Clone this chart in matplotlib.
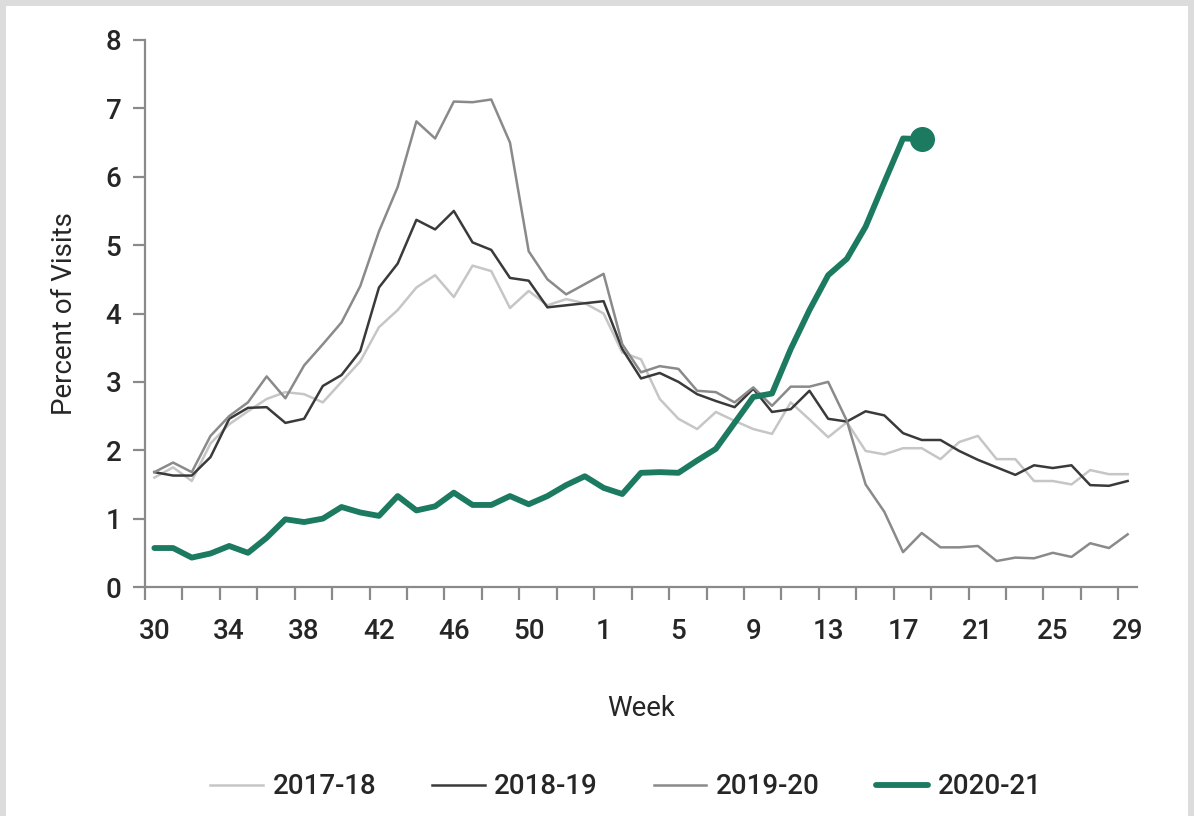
import matplotlib.pyplot as plt
import numpy as np
from matplotlib.patches import Rectangle

weeks = list(range(30, 54)) + list(range(1, 30))

s_2017_18 = [1.60, 1.75, 1.55, 2.10, 2.38, 2.57, 2.75, 2.85, 2.82, 2.70,
             3.00, 3.30, 3.80, 4.05, 4.38, 4.56, 4.24, 4.70, 4.62, 4.08,
             4.33, 4.12, 4.21, 4.15, 4.00, 3.43, 3.33, 2.75, 2.46, 2.31,
             2.56, 2.43, 2.31, 2.24, 2.70, 2.45, 2.19, 2.41, 1.99, 1.94,
             2.03, 2.03, 1.87, 2.12, 2.21, 1.87, 1.87, 1.55, 1.55, 1.50,
             1.71, 1.65, 1.65]
s_2018_19 = [1.68, 1.63, 1.63, 1.90, 2.46, 2.62, 2.63, 2.40, 2.46, 2.94,
             3.10, 3.45, 4.38, 4.73, 5.37, 5.23, 5.50, 5.04, 4.93, 4.52,
             4.48, 4.09, 4.12, 4.15, 4.18, 3.48, 3.05, 3.13, 3.00, 2.82,
             2.72, 2.63, 2.90, 2.56, 2.60, 2.87, 2.46, 2.42, 2.57, 2.51,
             2.25, 2.15, 2.15, 1.99, 1.86, 1.75, 1.64, 1.78, 1.74, 1.78,
             1.49, 1.48, 1.55]
s_2019_20 = [1.68, 1.82, 1.68, 2.21, 2.50, 2.70, 3.08, 2.76, 3.24, 3.55,
             3.87, 4.40, 5.20, 5.85, 6.81, 6.56, 7.10, 7.09, 7.13, 6.50,
             4.91, 4.50, 4.28, 4.43, 4.58, 3.55, 3.14, 3.23, 3.19, 2.87,
             2.85, 2.70, 2.92, 2.65, 2.93, 2.93, 3.00, 2.43, 1.50, 1.10,
             0.51, 0.79, 0.58, 0.58, 0.60, 0.38, 0.43, 0.42, 0.50, 0.44,
             0.64, 0.57, 0.77]
s_2020_21 = [0.57, 0.57, 0.43, 0.49, 0.60, 0.50, 0.72, 0.99, 0.95, 1.00,
             1.17, 1.09, 1.04, 1.33, 1.12, 1.18, 1.38, 1.20, 1.20, 1.33,
             1.21, 1.33, 1.49, 1.62, 1.45, 1.36, 1.67, 1.68, 1.67, 1.85,
             2.02, 2.40, 2.78, 2.83, 3.48, 4.05, 4.56, 4.80, 5.27, 5.92,
             6.56, 6.55]

series_labels = ["2017-18", "2018-19", "2019-20", "2020-21"]
series_colors = ["#c6c6c6", "#3a3a3a", "#8a8a8a", "#1b7a5f"]

plt.rcParams["font.family"] = ["Roboto", "DejaVu Sans"]
plt.rcParams["font.weight"] = "medium"
text_color = "#262626"
axis_color = "#8a8a8a"

fig = plt.figure(figsize=(11.94, 8.16), dpi=100)
fig.patch.set_facecolor("#dcdcdc")
fig.add_artist(Rectangle((6 / 1194, 0), 1182 / 1194, 1 - 6 / 816,
                         transform=fig.transFigure, facecolor="white",
                         edgecolor="none", zorder=-10))

ax = fig.add_axes([145 / 1194, 1 - 587 / 816, (1137 - 145) / 1194, (587 - 40) / 816])
ax.set_facecolor("none")

x_all = np.arange(len(weeks))
ax.plot(x_all, s_2017_18, color=series_colors[0], lw=1.8, label=series_labels[0])
ax.plot(x_all, s_2018_19, color=series_colors[1], lw=1.8, label=series_labels[1])
ax.plot(x_all, s_2019_20, color=series_colors[2], lw=1.8, label=series_labels[2])
x_cur = np.arange(len(s_2020_21))
ax.plot(x_cur, s_2020_21, color=series_colors[3], lw=4.2, solid_joinstyle="round",
        solid_capstyle="round", label=series_labels[3])
ax.plot(x_cur[-1], s_2020_21[-1], "o", color=series_colors[3], ms=17)

ax.set_xlim(-0.5, len(weeks) - 0.5)
ax.set_ylim(0, 8)

for side in ["top", "right"]:
    ax.spines[side].set_visible(False)
for side in ["left", "bottom"]:
    ax.spines[side].set_color(axis_color)
    ax.spines[side].set_linewidth(1.6)

label_pos = np.arange(0, len(weeks), 4)
ax.set_xticks(label_pos)
ax.set_xticklabels([str(weeks[i]) for i in label_pos])
ax.set_xticks(np.arange(-0.5, len(weeks) - 1, 2), minor=True)
ax.tick_params(axis="x", which="major", length=0, pad=22, labelsize=20, labelcolor=text_color)
ax.tick_params(axis="x", which="minor", length=9, width=1.6, color=axis_color)
ax.set_yticks(range(0, 9))
ax.tick_params(axis="y", length=9, width=1.6, color=axis_color, pad=8,
               labelsize=20, labelcolor=text_color)

ax.set_xlabel("Week", fontsize=20, color=text_color, labelpad=36)
ax.set_ylabel("Percent of Visits", fontsize=20, color=text_color, labelpad=20)

handles, labels = ax.get_legend_handles_labels()
fig.legend(handles[:4], labels[:4], loc="center", bbox_to_anchor=(626 / 1194, 1 - 787 / 816),
           ncol=4, frameon=False, fontsize=20, handlelength=1.9, handletextpad=0.35,
           columnspacing=2.0, labelcolor=text_color)

fig.savefig("out.png", dpi=100)
